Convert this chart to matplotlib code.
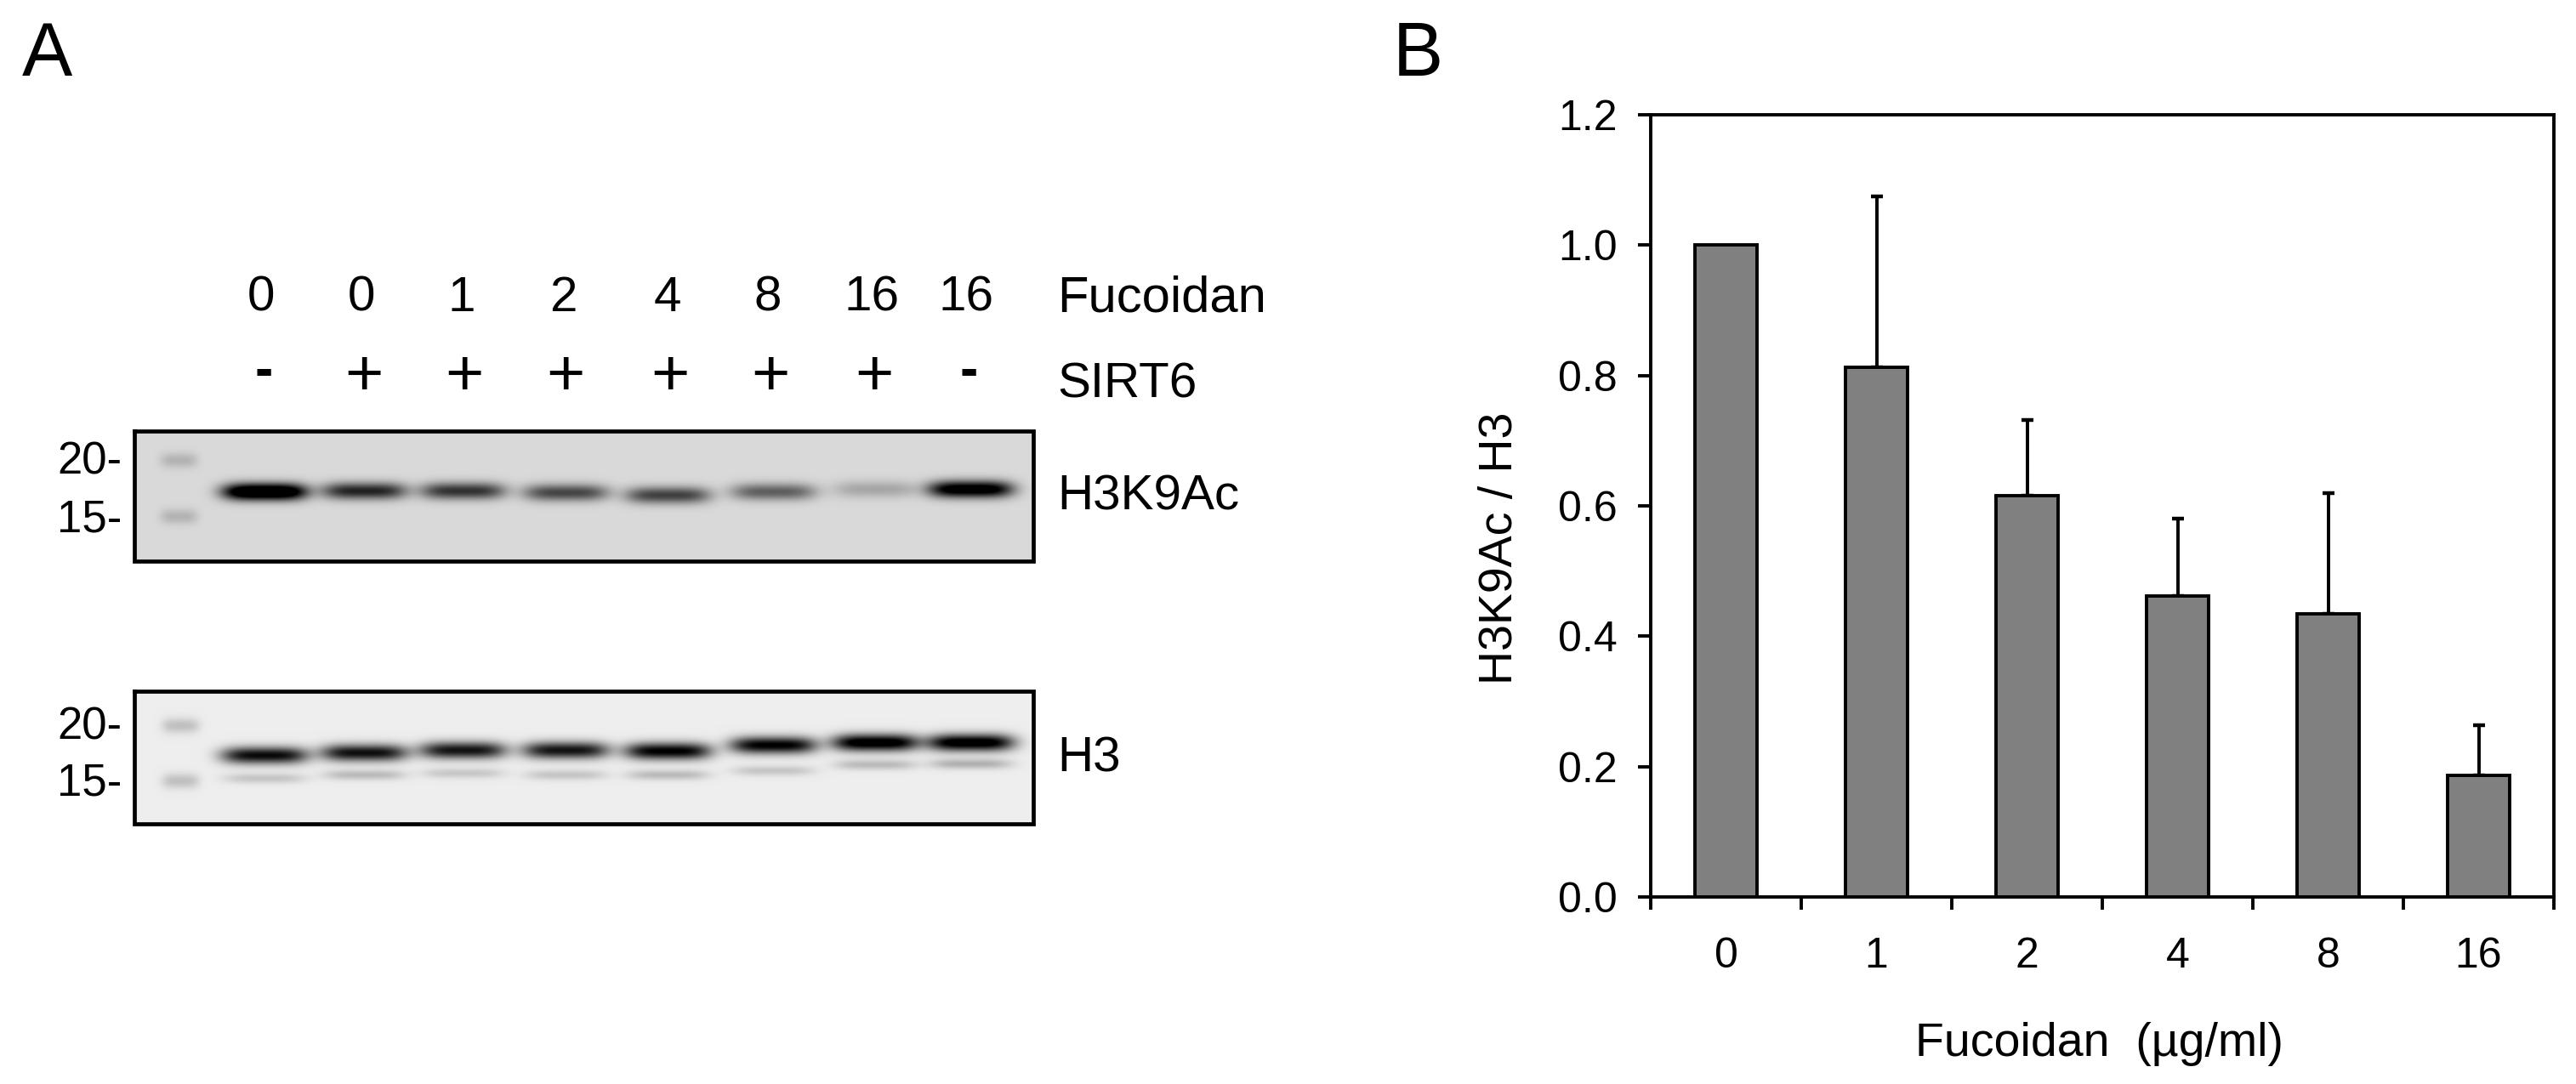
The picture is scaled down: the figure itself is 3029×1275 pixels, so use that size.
import numpy as np
import matplotlib
matplotlib.use("Agg")
import matplotlib.pyplot as plt

plt.rcParams['font.family'] = ['Liberation Sans', 'DejaVu Sans']

# Panel B data
doses = ['0', '1', '2', '4', '8', '16']
ratio = [1.0, 0.812, 0.616, 0.462, 0.435, 0.187]
err_up = [0.0, 0.263, 0.116, 0.118, 0.185, 0.076]

# Panel A lane annotations
lane_fucoidan = ['0', '0', '1', '2', '4', '8', '16', '16']
lane_sirt6 = ['-', '+', '+', '+', '+', '+', '+', '-']
lane_x = [311, 428, 544, 665, 785, 909, 1029, 1141]
label_x = [307, 425, 543, 662, 785, 903, 1025, 1136]

# Band readings (centre row in px, relative darkness)
k9_y = [578, 577, 577, 579, 582, 578, 575, 575]
k9_dark = [1.2, 0.72, 0.66, 0.58, 0.60, 0.48, 0.20, 1.0]
h3_y = [888, 885, 882, 882, 883, 876, 873, 873]
h3_dark = [0.90, 0.88, 0.86, 0.86, 0.95, 0.95, 1.05, 1.05]
h3_low_y = [915, 911, 909, 911, 911, 906, 899, 898]
h3_low_dark = [0.16, 0.20, 0.15, 0.16, 0.20, 0.16, 0.20, 0.24]
ladder_k9_y = [541, 607]
ladder_h3_y = [853, 918]


def blot(x0, x1, y0, y1, bg, rows):
    xx, yy = np.meshgrid(np.arange(x0, x1), np.arange(y0, y1))
    d = np.zeros(xx.shape, float)
    for cx, cy, amp, hw, hh in rows:
        d += amp * np.exp(-np.abs((xx - cx) / hw) ** 4) * np.exp(-((yy - cy) / hh) ** 2)
    return np.clip(bg - d, 0, 1)


W, H = 3029, 1275
fig = plt.figure(figsize=(W / 100, H / 100), dpi=100, facecolor='white')
ov = fig.add_axes([0, 0, 1, 1])
ov.set_xlim(0, W)
ov.set_ylim(H, 0)
ov.axis('off')

# Blots
rows1 = [(x, y, a, 50, 10) for x, y, a in zip(lane_x, k9_y, k9_dark)]
rows1 += [(210, y, 0.15, 22, 9) for y in ladder_k9_y]
img1 = blot(158, 1215, 507, 660, 0.85, rows1)
rows2 = [(x, y, a, 51, 10) for x, y, a in zip(lane_x, h3_y, h3_dark)]
rows2 += [(x, y, a, 48, 6) for x, y, a in zip(lane_x, h3_low_y, h3_low_dark)]
rows2 += [(212, y, 0.18, 22, 9) for y in ladder_h3_y]
img2 = blot(158, 1215, 813, 969, 0.93, rows2)
for img, (y0, y1) in ((img1, (507, 660)), (img2, (813, 969))):
    ov.imshow(img, extent=(158, 1215, y1, y0), cmap='gray', vmin=0, vmax=1,
              aspect='auto', interpolation='bilinear')
    ov.plot([158, 1215, 1215, 158, 158], [y0, y0, y1, y1, y0], color='black',
            lw=3.4, solid_joinstyle='miter')
ov.set_xlim(0, W)
ov.set_ylim(H, 0)

fs = 42
for x, t in zip(label_x, lane_fucoidan):
    ov.text(x, 351, t, ha='center', va='center', fontsize=fs, color='black')
for x, t in zip(label_x, lane_sirt6):
    ov.text(x + 3, 444 if t == '+' else 438, t, ha='center', va='center',
            fontsize=56 if t == '+' else 46,
            color='black', fontweight='bold' if t == '-' else 'normal')
ov.text(1243, 351, 'Fucoidan', ha='left', va='center', fontsize=43)
ov.text(1243, 453, 'SIRT6', ha='left', va='center', fontsize=fs)
ov.text(1243, 584, 'H3K9Ac', ha='left', va='center', fontsize=fs)
ov.text(1243, 893, 'H3', ha='left', va='center', fontsize=fs)
for y, t in ((543, '20-'), (611, '15-'), (856, '20-'), (921, '15-')):
    ov.text(143, y, t, ha='right', va='center', fontsize=38)
ov.text(26, 66, 'A', ha='left', va='center', fontsize=64)
ov.text(1638, 66, 'B', ha='left', va='center', fontsize=64)

# Panel B
ax = fig.add_axes([1941 / W, 1 - 1055 / H, (3003 - 1941) / W, (1055 - 135) / H])
ax.patch.set_alpha(0)
x = np.arange(len(doses))
ax.bar(x, ratio, width=0.41, color='#808080', edgecolor='black', linewidth=2.8, zorder=3)
idx = [i for i, e in enumerate(err_up) if e > 0]
ax.errorbar(x[idx], np.array(ratio)[idx], yerr=[np.zeros(len(idx)), np.array(err_up)[idx]],
            fmt='none', ecolor='black', elinewidth=2.8, capsize=5, capthick=3.2, zorder=2)
ax.set_xlim(-0.5, 5.5)
ax.set_ylim(0, 1.2)
ax.set_yticks(np.arange(0, 1.21, 0.2))
ax.set_yticklabels([f'{v:.1f}' for v in np.arange(0, 1.21, 0.2)])
ax.set_xticks(np.arange(-0.5, 5.6, 1))
ax.set_xticklabels([])
ax.set_xticks(x, minor=True)
ax.set_xticklabels(doses, minor=True)
ax.tick_params(axis='x', which='minor', length=0, labelsize=36, pad=34)
ax.tick_params(axis='x', which='major', length=11, width=2.8)
ax.tick_params(axis='y', length=11, width=2.8, labelsize=36, pad=17)
for s in ax.spines.values():
    s.set_linewidth(2.8)
ov.text(2469, 1228, 'Fucoidan  (µg/ml)', ha='center', va='center', fontsize=40)
ov.text(1764, 645, 'H3K9Ac / H3', ha='center', va='center', rotation=90, fontsize=40)

fig.savefig('out.png', dpi=100)
